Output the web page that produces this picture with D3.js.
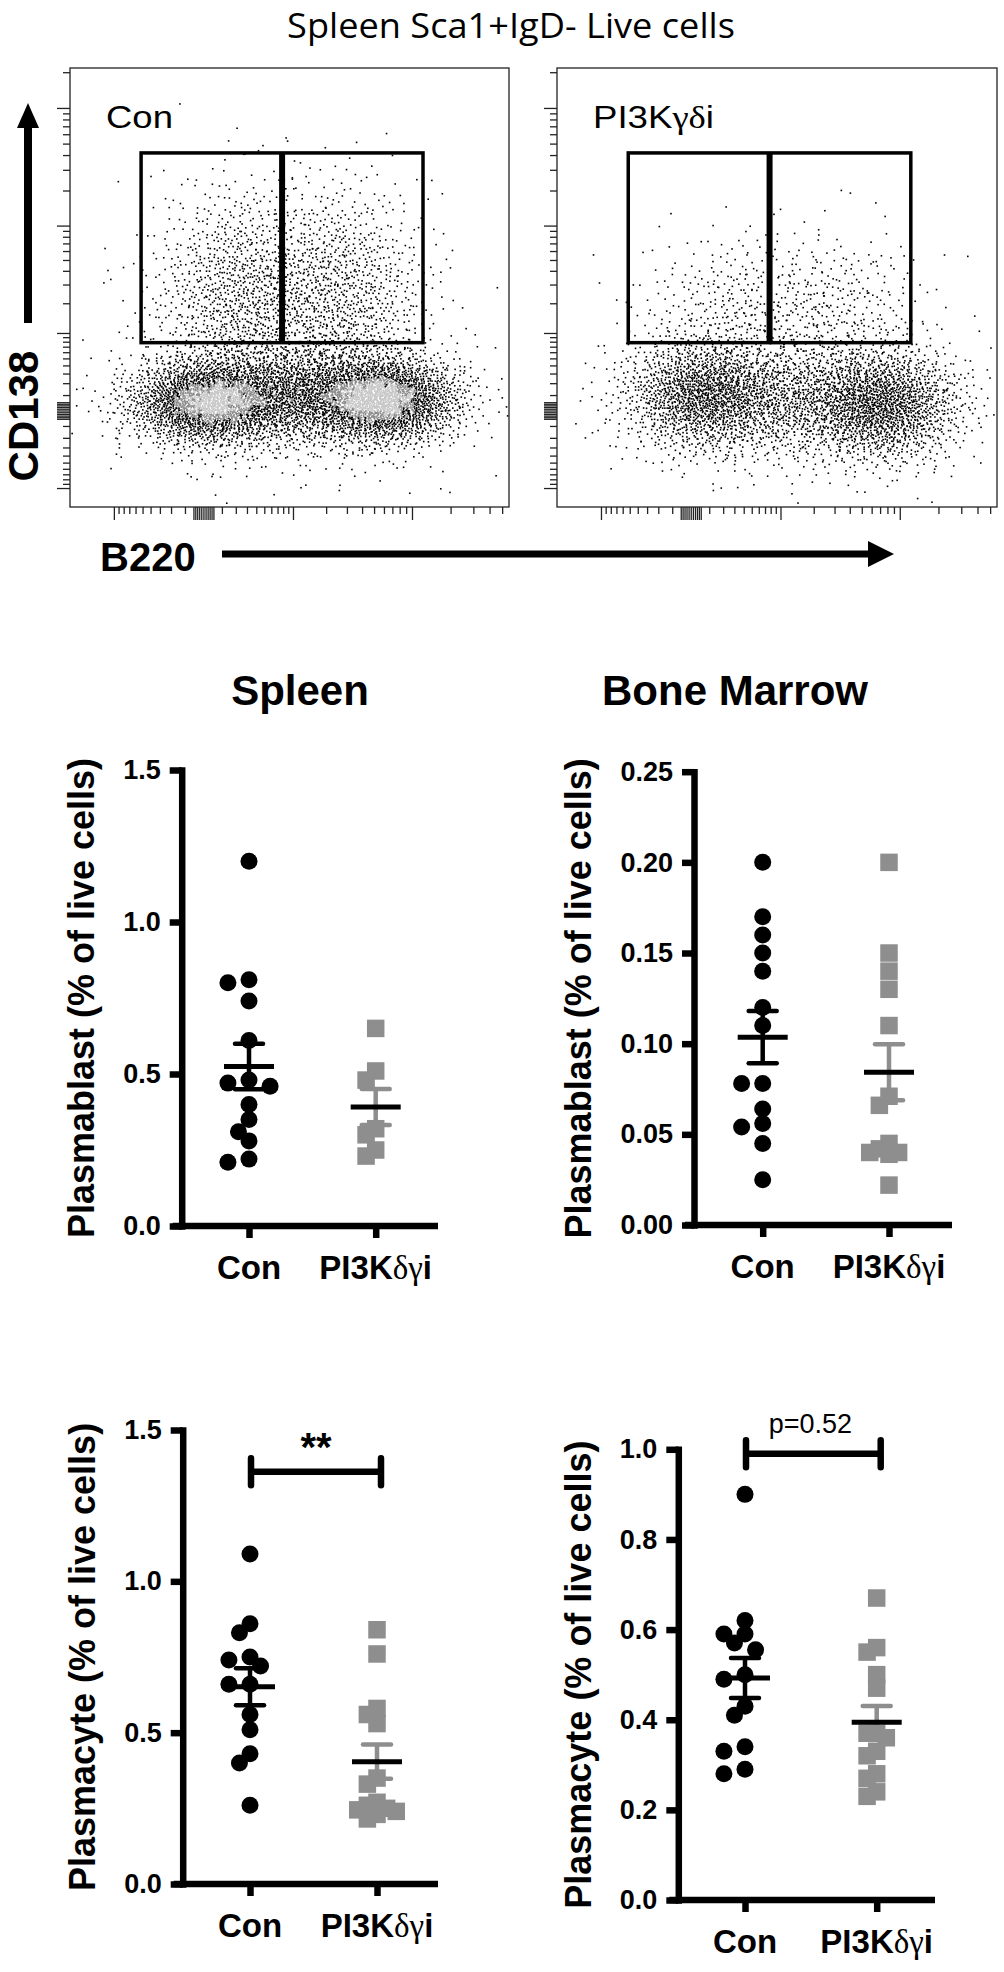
<!DOCTYPE html>
<html>
<head>
<meta charset="utf-8">
<script src="https://cdn.jsdelivr.net/npm/d3@7"></script>
<style>
body { margin: 0; background: #fff; }
text { font-family: "Liberation Sans", Arial, sans-serif; }
</style>
</head>
<body>
<svg id="fig" width="1004" height="1972"></svg>
<script>
// ---------- values ----------
const groups = ["Con", "PI3Kδγi"];

// Plasmablast, % of live cells
const spleenBlastCon = [1.20, 0.81, 0.80, 0.74, 0.61, 0.48, 0.47, 0.46, 0.40, 0.35, 0.31, 0.28, 0.22, 0.21];
const spleenBlastPI3K = [0.65, 0.51, 0.48, 0.32, 0.30, 0.25, 0.23];
const marrowBlastCon = [0.200, 0.170, 0.160, 0.150, 0.140, 0.120, 0.110, 0.078, 0.078, 0.064, 0.056, 0.054, 0.045, 0.025];
const marrowBlastPI3K = [0.200, 0.150, 0.140, 0.130, 0.110, 0.071, 0.066, 0.045, 0.042, 0.040, 0.040, 0.039, 0.022];

// Plasmacyte, % of live cells
const spleenCyteCon = [1.09, 0.86, 0.83, 0.75, 0.74, 0.72, 0.66, 0.66, 0.56, 0.51, 0.43, 0.40, 0.26];
const spleenCytePI3K = [0.84, 0.76, 0.58, 0.56, 0.53, 0.35, 0.33, 0.27, 0.26, 0.25, 0.245, 0.24, 0.23, 0.215];
const marrowCyteCon = [0.90, 0.62, 0.59, 0.59, 0.57, 0.555, 0.50, 0.49, 0.43, 0.41, 0.34, 0.33, 0.29, 0.28];
const marrowCytePI3K = [0.67, 0.56, 0.55, 0.50, 0.47, 0.37, 0.37, 0.36, 0.33, 0.32, 0.28, 0.27, 0.24, 0.23];

// axis ticks
const spleenTicks = [0, 0.5, 1.0, 1.5];
const marrowBlastTicks = [0, 0.05, 0.10, 0.15, 0.20, 0.25];
const marrowCyteTicks = [0, 0.2, 0.4, 0.6, 0.8, 1.0];

// flow plots: B220 (x) vs CD138 (y); event clouds
// (centre in fluorescence units, spread in log-ish units, event count)
const flowSamples = ["Con", "PI3Kγδi"];
const conClusters = [
	{ x: 17, y: 51, sx: 0.70, sy: 0.42, n: 2200 },
	{ x: 6100, y: 65, sx: 0.67, sy: 0.42, n: 2200 },
	{ x: 1160, y: 100, sx: 0.88, sy: 0.50, n: 1500 },
	{ x: 240, y: 2400, sx: 0.79, sy: 1.06, n: 1100 },
	{ x: 2630, y: 2400, sx: 0.79, sy: 1.06, n: 1000 },
	{ x: 900, y: 200, sx: 1.59, sy: 0.97, n: 450 }
];
const pi3kClusters = [
	{ x: 60, y: 100, sx: 0.70, sy: 0.54, n: 1500 },
	{ x: 7300, y: 32, sx: 0.70, sy: 0.54, n: 1700 },
	{ x: 1160, y: 64, sx: 0.97, sy: 0.58, n: 1000 },
	{ x: 330, y: 1710, sx: 0.88, sy: 0.77, n: 350 },
	{ x: 3190, y: 1710, sx: 0.80, sy: 0.77, n: 300 },
	{ x: 900, y: 160, sx: 1.76, sy: 1.06, n: 250 }
];
const gateX = [-520, 780, 12200];
const gateY = [780, 41700];

// ---------- helpers ----------
const svg = d3.select("#fig");
const GREY = "#8e8e8e";

function fitWidth(sel, w) {
	// stretch a text horizontally to the width it has in the picture
	let len = sel.node().getComputedTextLength();
	let t = sel.attr("transform") || "";
	sel.attr("transform", t + ` scale(${w / len},1)`);
}

function halton(i, b) {
	let f = 1, r = 0;
	while (i > 0) {
		f /= b;
		r += f * (i % b);
		i = Math.floor(i / b);
	}
	return r;
}

const CX = 260, CY = 287; // symlog constants
const toT = (v, c) => Math.sign(v) * Math.log1p(Math.abs(v) / c);
const fromT = (t, c) => Math.sign(t) * c * Math.expm1(Math.abs(t));

function clusterEvents(cl, seed) {
	let out = [];
	for (let i = 0; i < cl.n; i++) {
		let u1 = halton(seed + i + 1, 2), u2 = halton(seed + i + 1, 3);
		let r = Math.sqrt(-2 * Math.log(u1));
		let zx = r * Math.cos(2 * Math.PI * u2), zy = r * Math.sin(2 * Math.PI * u2);
		out.push({
			x: fromT(toT(cl.x, CX) + zx * cl.sx, CX),
			y: fromT(toT(cl.y, CY) + zy * cl.sy, CY)
		});
	}
	return out;
}

// ---------- top: flow plots ----------
let title = svg.append("text")
	.attr("text-anchor", "middle")
	.attr("transform", "translate(511,38)")
	.style("font-family", "'Open Sans', 'Noto Sans', sans-serif")
	.style("font-size", "34px")
	.text("Spleen Sca1+IgD- Live cells");
fitWidth(title, 448);

const flowTop = 68, flowBottom = 507;
const flowBoxes = [{ x0: 70, x1: 509 }, { x0: 557, x1: 997 }];
const flowLabelW = [67, 121];

const yFlow = d3.scaleSymlog().constant(CY).domain([-1571, 217000]).range([flowBottom, flowTop]);

const majorFlow = [-1000, 0, 1000, 10000, 100000];
let minorFlow = [];
[1000, 10000, 100000].forEach((d) => {
	for (let k = 2; k <= 9; k++) minorFlow.push(k * d);
});
for (let k = 1; k <= 9; k++) minorFlow.push(k * 100, -k * 100);
let zeroFlow = [10, 20, 30, 40, 50, -10, -20, -30, -40, -50];

[conClusters, pi3kClusters].forEach((clusters, pi) => {
	let box = flowBoxes[pi];
	let xFlow = d3.scaleSymlog().constant(CX).domain([-2470, 56450]).range([box.x0, box.x1]);
	let g = svg.append("g");

	g.append("clipPath").attr("id", "clip" + pi)
		.append("rect")
		.attr("x", box.x0).attr("y", flowTop)
		.attr("width", box.x1 - box.x0).attr("height", flowBottom - flowTop);

	// events
	let events = [];
	clusters.forEach((cl, ci) => {
		events = events.concat(clusterEvents(cl, ci * 5003 + pi * 20011));
	});
	events.forEach((e) => {
		e.px = xFlow(e.x);
		e.py = yFlow(e.y);
	});
	// density shading: dense cores turn grey as in the original plot
	let bx = (e) => Math.floor(e.px / 3), by = (e) => Math.floor(e.py / 3);
	let bins = d3.rollup(events, (v) => v.length, (e) => bx(e) + "," + by(e));
	let shade = (e) => {
		let n = 0;
		for (let i = -1; i <= 1; i++)
			for (let j = -1; j <= 1; j++) n += bins.get(bx(e) + i + "," + (by(e) + j)) || 0;
		if (n >= 32) return "#c6c6c6";
		if (n >= 26) return "#8a8a8a";
		return "#000";
	};
	g.append("g")
		.attr("clip-path", `url(#clip${pi})`)
		.selectAll("rect")
		.data(events)
		.join("rect")
		.attr("x", (d) => d.px - 0.8)
		.attr("y", (d) => d.py - 0.8)
		.attr("width", 1.6)
		.attr("height", 1.6)
		.attr("fill", shade);

	// frame
	g.append("rect")
		.attr("x", box.x0).attr("y", flowTop)
		.attr("width", box.x1 - box.x0).attr("height", flowBottom - flowTop)
		.attr("fill", "none").attr("stroke", "#222").attr("stroke-width", 1.3);

	// logicle-style ticks
	let yTicks = (vals, len) => {
		let a = g.append("g").attr("transform", `translate(${box.x0},0)`)
			.call(d3.axisLeft(yFlow).tickValues(vals).tickSize(len).tickFormat(""));
		a.select(".domain").remove();
		a.selectAll("line").attr("stroke", "#222").attr("stroke-width", 1.3);
	};
	let xTicks = (vals, len) => {
		let a = g.append("g").attr("transform", `translate(0,${flowBottom})`)
			.call(d3.axisBottom(xFlow).tickValues(vals).tickSize(len).tickFormat(""));
		a.select(".domain").remove();
		a.selectAll("line").attr("stroke", "#222").attr("stroke-width", 1.3);
	};
	yTicks(majorFlow.concat(zeroFlow), 13);
	yTicks(minorFlow.filter((v) => v < 217000), 7);
	xTicks(majorFlow.concat(zeroFlow).filter((v) => v < 56450), 13);
	xTicks(minorFlow.filter((v) => v < 56450), 7);

	// gates
	g.append("rect")
		.attr("x", xFlow(gateX[0])).attr("y", yFlow(gateY[1]))
		.attr("width", xFlow(gateX[2]) - xFlow(gateX[0]))
		.attr("height", yFlow(gateY[0]) - yFlow(gateY[1]))
		.attr("fill", "none").attr("stroke", "#000").attr("stroke-width", 3.5);
	g.append("line")
		.attr("x1", xFlow(gateX[1])).attr("x2", xFlow(gateX[1]))
		.attr("y1", yFlow(gateY[1])).attr("y2", yFlow(gateY[0]))
		.attr("stroke", "#000").attr("stroke-width", 6);

	// sample label
	let lab = g.append("text")
		.attr("transform", `translate(${box.x0 + 36},128)`)
		.style("font-size", "32px");
	if (pi === 0) {
		lab.text(flowSamples[0]);
	} else {
		lab.append("tspan").text("PI3K");
		lab.append("tspan").style("font-family", "'Liberation Serif', 'DejaVu Serif', serif").text("γδ");
		lab.append("tspan").text("i");
	}
	fitWidth(lab, flowLabelW[pi]);
});

// CD138 arrow + label
svg.append("rect").attr("x", 24).attr("y", 124).attr("width", 8).attr("height", 199).attr("fill", "#000");
svg.append("path").attr("d", "M28,103 L39,128 L17,128 Z").attr("fill", "#000");
svg.append("text")
	.attr("transform", "translate(38,416) rotate(-90)")
	.attr("text-anchor", "middle")
	.style("font-weight", "bold").style("font-size", "42px")
	.text("CD138");

// B220 arrow + label
svg.append("rect").attr("x", 222).attr("y", 550.5).attr("width", 650).attr("height", 7).attr("fill", "#000");
svg.append("path").attr("d", "M894,554 L868,541 L868,567 Z").attr("fill", "#000");
svg.append("text")
	.attr("x", 100).attr("y", 571)
	.style("font-weight", "bold").style("font-size", "40px")
	.text("B220");

// ---------- dot plots ----------
svg.append("text").attr("x", 300).attr("y", 705).attr("text-anchor", "middle")
	.style("font-weight", "bold").style("font-size", "42px").text("Spleen");
svg.append("text").attr("x", 602).attr("y", 705)
	.style("font-weight", "bold").style("font-size", "42px").text("Bone Marrow");

const panels = [
	{ axisX: 181.7, top: 770, bottom: 1226, xEnd: 438, gx: [249, 375.7], ticks: spleenTicks, fmt: ".1f",
		label: "Plasmablast (% of live cells)", con: spleenBlastCon, pi3k: spleenBlastPI3K },
	{ axisX: 694, top: 771.7, bottom: 1225, xEnd: 952, gx: [762.7, 889], ticks: marrowBlastTicks, fmt: ".2f",
		label: "Plasmablast (% of live cells)", con: marrowBlastCon, pi3k: marrowBlastPI3K },
	{ axisX: 182.7, top: 1430, bottom: 1884, xEnd: 438, gx: [250, 377], ticks: spleenTicks, fmt: ".1f",
		label: "Plasmacyte (% of live cells)", con: spleenCyteCon, pi3k: spleenCytePI3K,
		sig: { y: 1.362, text: "**", bold: true } },
	{ axisX: 678.3, top: 1449.3, bottom: 1900, xEnd: 935, gx: [745, 876.7], ticks: marrowCyteTicks, fmt: ".1f",
		label: "Plasmacyte (% of live cells)", con: marrowCyteCon, pi3k: marrowCytePI3K,
		sig: { y: 0.99, text: "p=0.52", bold: false } }
];

// column scatter: shift a point sideways until it no longer sits on a placed one
function swarm(values, y, cx, size, square) {
	let placed = [];
	let step = square ? size * 0.55 : size * 0.62;
	let near = square ? size * 0.55 : size * 0.75;
	let sorted = values.slice().sort((a, b) => b - a);
	sorted.forEach((v) => {
		let py = y(v);
		for (let k = 0; k < 40; k++) {
			let off = k === 0 ? 0 : (k % 2 ? -1 : 1) * Math.ceil(k / 2) * step;
			let px = cx + off;
			let hit = placed.some((p) =>
				square
					? Math.abs(p.x - px) < near && Math.abs(p.y - py) < near
					: Math.hypot(p.x - px, p.y - py) < near
			);
			if (!hit) {
				placed.push({ x: px, y: py, v: v });
				break;
			}
		}
	});
	return placed;
}

panels.forEach((p) => {
	let g = svg.append("g");
	let y = d3.scaleLinear().domain([0, d3.max(p.ticks)]).range([p.bottom, p.top]);
	let x = d3.scalePoint().domain(groups).range(p.gx);

	// y axis
	let ya = g.append("g").attr("transform", `translate(${p.axisX},0)`)
		.call(d3.axisLeft(y).tickValues(p.ticks).tickFormat(d3.format(p.fmt)).tickSize(12).tickSizeOuter(0).tickPadding(9));
	ya.select(".domain").attr("stroke-width", 6.5).attr("stroke-linecap", "square");
	ya.selectAll(".tick line").attr("stroke-width", 6.5);
	ya.selectAll(".tick text")
		.style("font-family", "'Liberation Sans', Arial, sans-serif")
		.style("font-weight", "bold").style("font-size", "27px").attr("fill", "#000");
	let maxW = d3.max(ya.selectAll(".tick text").nodes(), (n) => n.getComputedTextLength());

	// x axis
	g.append("line")
		.attr("x1", p.axisX - 9).attr("x2", p.xEnd)
		.attr("y1", p.bottom).attr("y2", p.bottom)
		.attr("stroke", "#000").attr("stroke-width", 6.5);
	let xa = g.append("g").attr("transform", `translate(0,${p.bottom})`)
		.call(d3.axisBottom(x).tickSize(12).tickSizeOuter(0).tickFormat(""));
	xa.select(".domain").remove();
	xa.selectAll(".tick line").attr("stroke-width", 6.5);

	groups.forEach((gname, gi) => {
		let t = g.append("text")
			.attr("x", x(gname)).attr("y", p.bottom + 53)
			.attr("text-anchor", "middle")
			.style("font-weight", "bold").style("font-size", "33px");
		if (gi === 0) {
			t.text(gname);
		} else {
			t.append("tspan").text("PI3K");
			t.append("tspan").style("font-family", "'Liberation Serif', 'DejaVu Serif', serif")
				.style("font-weight", "normal").text("δγ");
			t.append("tspan").text("i");
		}
	});

	// y title
	g.append("text")
		.attr("transform", `translate(${p.axisX - 21 - maxW - 29},${(p.top + p.bottom) / 2}) rotate(-90)`)
		.attr("text-anchor", "middle")
		.style("font-weight", "bold").style("font-size", "36px")
		.text(p.label);

	// points
	let conPts = swarm(p.con, y, x(groups[0]), 17, false);
	let piPts = swarm(p.pi3k, y, x(groups[1]), 17.5, true);
	g.selectAll("circle.con").data(conPts).join("circle")
		.attr("class", "con")
		.attr("cx", (d) => d.x).attr("cy", (d) => d.y).attr("r", 8.5).attr("fill", "#000");
	g.selectAll("rect.pi").data(piPts).join("rect")
		.attr("class", "pi")
		.attr("x", (d) => d.x - 8.75).attr("y", (d) => d.y - 8.75)
		.attr("width", 17.5).attr("height", 17.5).attr("fill", GREY);

	// mean +/- SEM
	[[p.con, groups[0], "#000"], [p.pi3k, groups[1], GREY]].forEach(([vals, gname, col]) => {
		let m = d3.mean(vals);
		let sem = d3.deviation(vals) / Math.sqrt(vals.length);
		let cx = x(gname);
		g.append("line").attr("x1", cx).attr("x2", cx).attr("y1", y(m - sem)).attr("y2", y(m + sem))
			.attr("stroke", col).attr("stroke-width", 4.5);
		[m - sem, m + sem].forEach((v) => {
			g.append("line").attr("x1", cx - 14).attr("x2", cx + 14).attr("y1", y(v)).attr("y2", y(v))
				.attr("stroke", col).attr("stroke-width", 4.5).attr("stroke-linecap", "round");
		});
		g.append("line").attr("x1", cx - 25).attr("x2", cx + 25).attr("y1", y(m)).attr("y2", y(m))
			.attr("stroke", "#000").attr("stroke-width", 5);
	});

	// significance bar
	if (p.sig) {
		let sy = y(p.sig.y);
		let x0 = x(groups[0]) + 1, x1 = x(groups[1]) + 4;
		g.append("path")
			.attr("d", `M${x0},${sy - 13.5}V${sy + 13.5}M${x0},${sy}H${x1}M${x1},${sy - 13.5}V${sy + 13.5}`)
			.attr("fill", "none").attr("stroke", "#000").attr("stroke-width", 6.5).attr("stroke-linecap", "round");
		let cx = (x0 + x1) / 2;
		if (p.sig.bold) {
			g.append("text").attr("x", cx).attr("y", sy - 11).attr("text-anchor", "middle")
				.style("font-weight", "bold").style("font-size", "40px").text(p.sig.text);
		} else {
			g.append("text").attr("x", cx - 3).attr("y", sy - 21).attr("text-anchor", "middle")
				.style("font-size", "27px").text(p.sig.text);
		}
	}
});
</script>
</body>
</html>
